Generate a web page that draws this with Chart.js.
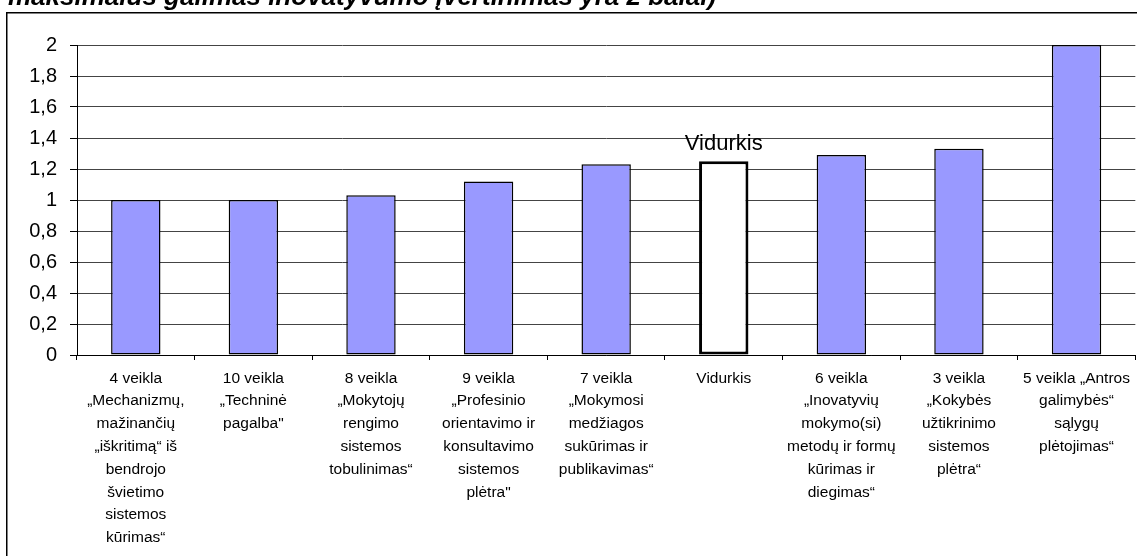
<!DOCTYPE html>
<html>
<head>
<meta charset="utf-8">
<script src="https://cdn.jsdelivr.net/npm/chart.js@4/dist/chart.umd.min.js"></script>
<style>
  html, body { margin: 0; padding: 0; background: #fff; }
  #wrap { width: 1137px; height: 556px; }
</style>
</head>
<body>
<div id="wrap"><canvas id="inov-graph" width="1137" height="556"></canvas></div>
<script>
// kategorijos (eilutėmis, kaip paveiksle)
var categories = [
  ["4 veikla", "„Mechanizmų,", "mažinančių", "„iškritimą“ iš", "bendrojo", "švietimo", "sistemos", "kūrimas“"],
  ["10 veikla", "„Techninė", "pagalba\""],
  ["8 veikla", "„Mokytojų", "rengimo", "sistemos", "tobulinimas“"],
  ["9 veikla", "„Profesinio", "orientavimo ir", "konsultavimo", "sistemos", "plėtra\""],
  ["7 veikla", "„Mokymosi", "medžiagos", "sukūrimas ir", "publikavimas“"],
  ["Vidurkis"],
  ["6 veikla", "„Inovatyvių", "mokymo(si)", "metodų ir formų", "kūrimas ir", "diegimas“"],
  ["3 veikla", "„Kokybės", "užtikrinimo", "sistemos", "plėtra“"],
  ["5 veikla „Antros", "galimybės“", "sąlygų", "plėtojimas“"]
];
var values = [1, 1, 1.03, 1.12, 1.23, 1.25, 1.29, 1.33, 2];
var averageIndex = 5;
var averageLabel = "Vidurkis";
var yTickLabels = ["0", "0,2", "0,4", "0,6", "0,8", "1", "1,2", "1,4", "1,6", "1,8", "2"];
var titleText = "maksimalus galimas inovatyvumo įvertinimas yra 2 balai)";

var frameAndTitle = {
  id: 'frameAndTitle',
  beforeDraw: function(chart) {
    var c = chart.ctx;
    c.save();
    c.fillStyle = '#fff';
    c.fillRect(0, 0, chart.width, chart.height);
    c.strokeStyle = '#000';
    c.lineWidth = 1.5;
    c.strokeRect(6.75, 12.75, chart.width + 20, chart.height + 20);
    c.fillStyle = '#000';
    c.font = 'italic bold 26px "Liberation Sans", Arial, sans-serif';
    c.textBaseline = 'alphabetic';
    c.textAlign = 'left';
    c.fillText(titleText, 8, 5);
    c.restore();
  },
  afterDatasetsDraw: function(chart) {
    var bar = chart.getDatasetMeta(0).data[averageIndex];
    var c = chart.ctx;
    c.save();
    c.fillStyle = '#000';
    c.font = '22px "Liberation Sans", Arial, sans-serif';
    c.textAlign = 'center';
    c.textBaseline = 'alphabetic';
    c.fillText(averageLabel, bar.x, bar.y - 11);
    c.restore();
  }
};

var ctx = document.getElementById("inov-graph");
var inovChart = new Chart(ctx, {
  type: 'bar',
  data: {
    labels: categories,
    datasets: [{
      data: values,
      backgroundColor: values.map(function(v, i) { return i == averageIndex ? '#ffffff' : '#9999ff'; }),
      borderColor: '#000',
      borderWidth: values.map(function(v, i) { return i == averageIndex ? 3 : 1.5; }),
      borderSkipped: false,
      barPercentage: 0.42,
      categoryPercentage: 1
    }]
  },
  options: {
    responsive: false,
    animation: false,
    devicePixelRatio: 1,
    layout: { padding: { top: 45, right: 1, left: 0, bottom: 0 } },
    plugins: {
      legend: { display: false },
      tooltip: { enabled: false }
    },
    scales: {
      x: {
        afterFit: function(s) { s.height = 201; },
        grid: { drawOnChartArea: false, drawTicks: true, tickLength: 5, color: '#000', offset: true },
        border: { color: '#000', width: 1 },
        ticks: {
          color: '#000',
          padding: 7,
          maxRotation: 0,
          autoSkip: false,
          font: { family: '"Liberation Sans", Arial, sans-serif', size: 15.5, lineHeight: 1.47 }
        }
      },
      y: {
        min: 0,
        max: 2,
        afterFit: function(s) { s.width = 77; },
        grid: { color: '#444', lineWidth: 1, drawTicks: true, tickLength: 7, tickColor: '#000' },
        border: { color: '#000', width: 1 },
        ticks: {
          stepSize: 0.2,
          color: '#000',
          padding: 13,
          font: { family: '"Liberation Sans", Arial, sans-serif', size: 20 },
          callback: function(v, i) { return yTickLabels[i]; }
        }
      }
    }
  },
  plugins: [frameAndTitle]
});
</script>
</body>
</html>
